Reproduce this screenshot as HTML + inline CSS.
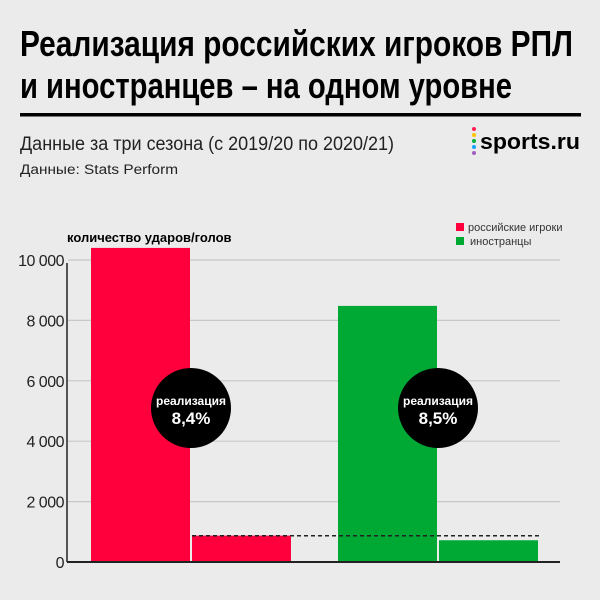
<!DOCTYPE html>
<html><head><meta charset="utf-8"><style>
html,body{margin:0;padding:0;background:#ebebeb;}
svg{display:block;font-family:"Liberation Sans",sans-serif;}
</style></head><body>
<svg id="chart" width="600" height="600" viewBox="0 0 600 600">
<rect width="600" height="600" fill="#ebebeb"/>
<text x="20" y="56" font-size="36" font-weight="bold" font-family="'Liberation Sans Narrow','Liberation Sans',sans-serif" textLength="553" lengthAdjust="spacingAndGlyphs" fill="#000">Реализация российских игроков РПЛ</text>
<text x="20" y="98" font-size="36" font-weight="bold" font-family="'Liberation Sans Narrow','Liberation Sans',sans-serif" textLength="492" lengthAdjust="spacingAndGlyphs" fill="#000">и иностранцев – на одном уровне</text>
<rect x="20" y="113" width="561" height="3.5" fill="#000"/>
<text x="20" y="150" font-size="19" textLength="374" lengthAdjust="spacingAndGlyphs" fill="#222">Данные за три сезона (с 2019/20 по 2020/21)</text>
<text x="20" y="174" font-size="13.5" textLength="158" lengthAdjust="spacingAndGlyphs" fill="#222">Данные: Stats Perform</text>
<g>
<circle cx="474" cy="129" r="2" fill="#ff1e56"/><circle cx="474" cy="135" r="2" fill="#ffc400"/><circle cx="474" cy="141" r="2" fill="#00b140"/><circle cx="474" cy="147" r="2" fill="#12a5ff"/><circle cx="474" cy="153" r="2" fill="#a05ec2"/>
<text x="480" y="149" font-size="22" font-weight="bold" textLength="100" lengthAdjust="spacingAndGlyphs" fill="#000">sports.ru</text>
</g>
<g>
<rect x="456" y="223" width="8" height="8" fill="#ff003c"/>
<text x="468" y="231" font-size="11" fill="#333">российские игроки</text>
<rect x="456" y="237" width="8" height="8" fill="#00a834"/>
<text x="470" y="245" font-size="11" fill="#333">иностранцы</text>
</g>
<text x="67" y="242" font-size="13" font-weight="bold" fill="#000">количество ударов/голов</text>
<g id="grid"></g><g id="bars"></g>
</svg>
<script>
const categories = ["российские игроки", "иностранцы"];
const shots = [10400, 8480];
const goals = [874, 720];
const rates = ["8,4%", "8,5%"];
const avgGoals = [870];
const yTicks = [0, 2000, 4000, 6000, 8000, 10000];
const tickLabels = ["0", "2 000", "4 000", "6 000", "8 000", "10 000"];
const colors = ["#ff003c", "#00a834"];

const NS = "http://www.w3.org/2000/svg";
const y0 = 562, yMaxPx = 260, yMax = 10000;
const y = v => y0 - (v / yMax) * (y0 - yMaxPx);
const groupX = i => 91 + i * 247;
const barW = 99;
function mk(tag, attrs, parent) {
  const e = document.createElementNS(NS, tag);
  for (const k in attrs) e.setAttribute(k, attrs[k]);
  parent.appendChild(e); return e;
}
const grid = document.getElementById("grid");
const bars = document.getElementById("bars");
yTicks.forEach((t, i) => {
  if (t > 0) {
    const l = mk("line", {x1: 68, x2: 560, y1: y(t), y2: y(t), stroke: "#c8c8c8", "stroke-width": 1.2}, grid);
    
    
  }
  const tx = mk("text", {x: 64, y: y(t) + 6, "font-size": 16, "text-anchor": "end", fill: "#222", "letter-spacing": "-0.5"}, grid);
  tx.textContent = tickLabels[i];
  
  
});
categories.forEach((c, i) => {
  const x = groupX(i);
  const b1 = mk("rect", {x: x, y: y(shots[i]), width: barW, height: y0 - y(shots[i]), fill: colors[i]}, bars);
  
  
  const b2 = mk("rect", {x: x + barW + 2, y: y(goals[i]), width: barW, height: y0 - y(goals[i]), fill: colors[i]}, bars);
  
  
});
const dl = mk("line", {x1: 192, x2: 541, y1: y(avgGoals[0]), y2: y(avgGoals[0]), stroke: "#222", "stroke-width": 1.5, "stroke-dasharray": "4,3"}, bars);


mk("line", {x1: 67, x2: 560, y1: y0, y2: y0, stroke: "#222", "stroke-width": 2}, bars);
mk("line", {x1: 67, x2: 67, y1: 263, y2: y0, stroke: "#222", "stroke-width": 1.5}, bars);
categories.forEach((c, i) => {
  const cx = groupX(i) + barW + 1;
  const cir = mk("ellipse", {cx: cx, cy: 408, rx: 40, ry: 40, fill: "#000"}, bars);
  
  
  const t1 = mk("text", {x: cx, y: 405, "font-size": 12, "font-weight": "bold", "text-anchor": "middle", fill: "#fff"}, bars);
  t1.textContent = "реализация";
  
  
  const t2 = mk("text", {x: cx, y: 424, "font-size": 17, "font-weight": "bold", "text-anchor": "middle", fill: "#fff"}, bars);
  t2.textContent = rates[i];
  
  
});
</script>
</body></html>
